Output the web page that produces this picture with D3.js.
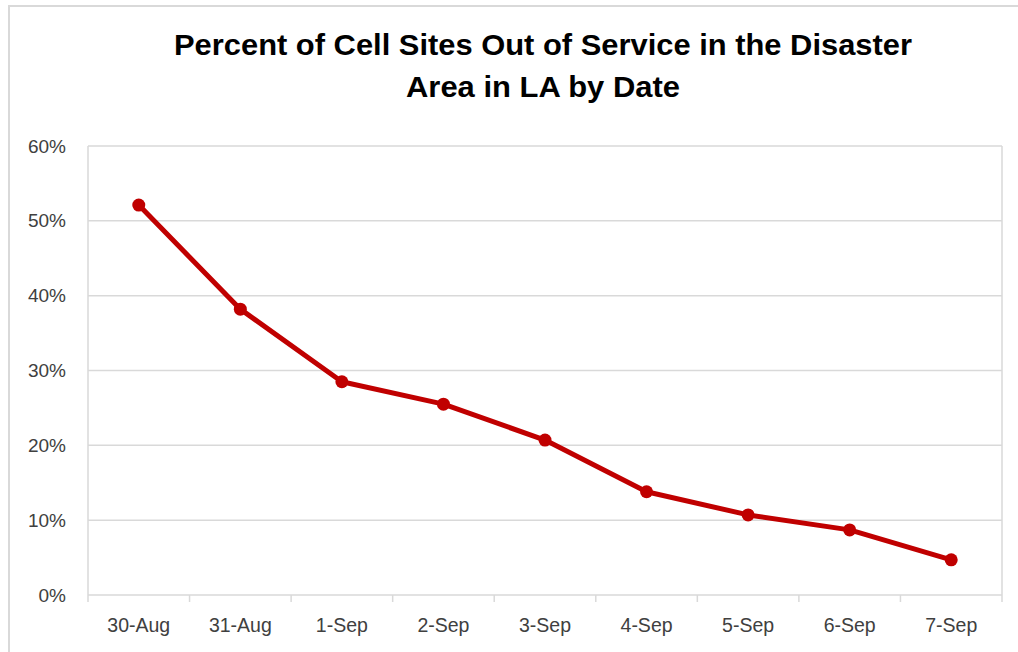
<!DOCTYPE html>
<html>
<head>
<meta charset="utf-8">
<script src="https://cdn.jsdelivr.net/npm/d3@7"></script>
<style>
  html, body { margin: 0; padding: 0; background: #fff; }
  svg { display: block; }
</style>
</head>
<body>
<div id="chart"></div>
<script>
const dates = ["30-Aug", "31-Aug", "1-Sep", "2-Sep", "3-Sep", "4-Sep", "5-Sep", "6-Sep", "7-Sep"];
const outOfService = [0.521, 0.382, 0.285, 0.255, 0.207, 0.138, 0.107, 0.087, 0.047];
const yTicks = [0, 0.1, 0.2, 0.3, 0.4, 0.5, 0.6];
const titleLines = ["Percent of Cell Sites Out of Service in the Disaster", "Area in LA by Date"];

const width = 1018;
const height = 652;
const margin = { top: 146, right: 16, bottom: 57, left: 88 };

const svg = d3.select("#chart").append("svg")
    .attr("width", width)
    .attr("height", height);

// chart frame (only top and left edges show in the crop)
svg.append("path")
    .attr("d", `M9,${height} V6 H${width}`)
    .attr("fill", "none")
    .attr("stroke", "#d9d9d9")
    .attr("stroke-width", 2);

const x = d3.scaleBand()
    .domain(dates)
    .range([margin.left, width - margin.right]);

const y = d3.scaleLinear()
    .domain([0, 0.6])
    .range([height - margin.bottom, margin.top]);

// gridlines
svg.append("g")
    .selectAll("line")
    .data(yTicks.filter(d => d > 0))
    .join("line")
      .attr("x1", margin.left)
      .attr("x2", width - margin.right)
      .attr("y1", d => y(d))
      .attr("y2", d => y(d))
      .attr("stroke", "#d9d9d9")
      .attr("stroke-width", 1.5);

// left and right plot edges
svg.append("g")
    .selectAll("line")
    .data([margin.left, width - margin.right])
    .join("line")
      .attr("x1", d => d)
      .attr("x2", d => d)
      .attr("y1", y(0.6))
      .attr("y2", y(0))
      .attr("stroke", "#d9d9d9")
      .attr("stroke-width", 1.5);

// y axis labels
svg.append("g")
    .attr("transform", `translate(${margin.left - 22},0)`)
    .call(d3.axisLeft(y).tickValues(yTicks).tickFormat(d3.format(".0%")).tickSize(0))
    .call(g => g.select(".domain").remove())
    .call(g => g.selectAll("text")
        .attr("font-family", "Liberation Sans, Arial, sans-serif")
        .attr("font-size", 19)
        .attr("fill", "#404040")
        .attr("x", 0));

// x axis with ticks at band boundaries
const xAxis = svg.append("g")
    .attr("transform", `translate(0,${y(0)})`);

xAxis.append("line")
    .attr("x1", margin.left)
    .attr("x2", width - margin.right)
    .attr("stroke", "#d9d9d9")
    .attr("stroke-width", 1.5);

xAxis.selectAll(".tick-mark")
    .data(d3.range(dates.length + 1))
    .join("line")
      .attr("class", "tick-mark")
      .attr("x1", i => margin.left + i * x.step())
      .attr("x2", i => margin.left + i * x.step())
      .attr("y1", 0)
      .attr("y2", 7)
      .attr("stroke", "#d9d9d9")
      .attr("stroke-width", 1.5);

xAxis.selectAll(".label")
    .data(dates)
    .join("text")
      .attr("class", "label")
      .attr("x", d => x(d) + x.bandwidth() / 2)
      .attr("y", 37)
      .attr("text-anchor", "middle")
      .attr("font-family", "Liberation Sans, Arial, sans-serif")
      .attr("font-size", 19.5)
      .attr("fill", "#404040")
      .text(d => d);

// series
const points = dates.map((d, i) => ({ date: d, value: outOfService[i] }));

const line = d3.line()
    .x(d => x(d.date) + x.bandwidth() / 2)
    .y(d => y(d.value));

svg.append("path")
    .datum(points)
    .attr("d", line)
    .attr("fill", "none")
    .attr("stroke", "#c00000")
    .attr("stroke-width", 5)
    .attr("stroke-linejoin", "round");

svg.append("g")
    .selectAll("circle")
    .data(points)
    .join("circle")
      .attr("cx", d => x(d.date) + x.bandwidth() / 2)
      .attr("cy", d => y(d.value))
      .attr("r", 6.5)
      .attr("fill", "#c00000");

// title
svg.append("g")
    .selectAll("text")
    .data(titleLines)
    .join("text")
      .attr("x", 543)
      .attr("y", (d, i) => 55 + i * 42)
      .attr("text-anchor", "middle")
      .attr("font-family", "Liberation Sans Narrow, Liberation Sans, Arial, sans-serif")
      .attr("font-weight", "bold")
      .attr("font-size", 30)
      .attr("fill", "#000")
      .attr("textLength", (d, i) => i === 0 ? 738 : 274)
      .attr("lengthAdjust", "spacingAndGlyphs")
      .text(d => d);
</script>
</body>
</html>
